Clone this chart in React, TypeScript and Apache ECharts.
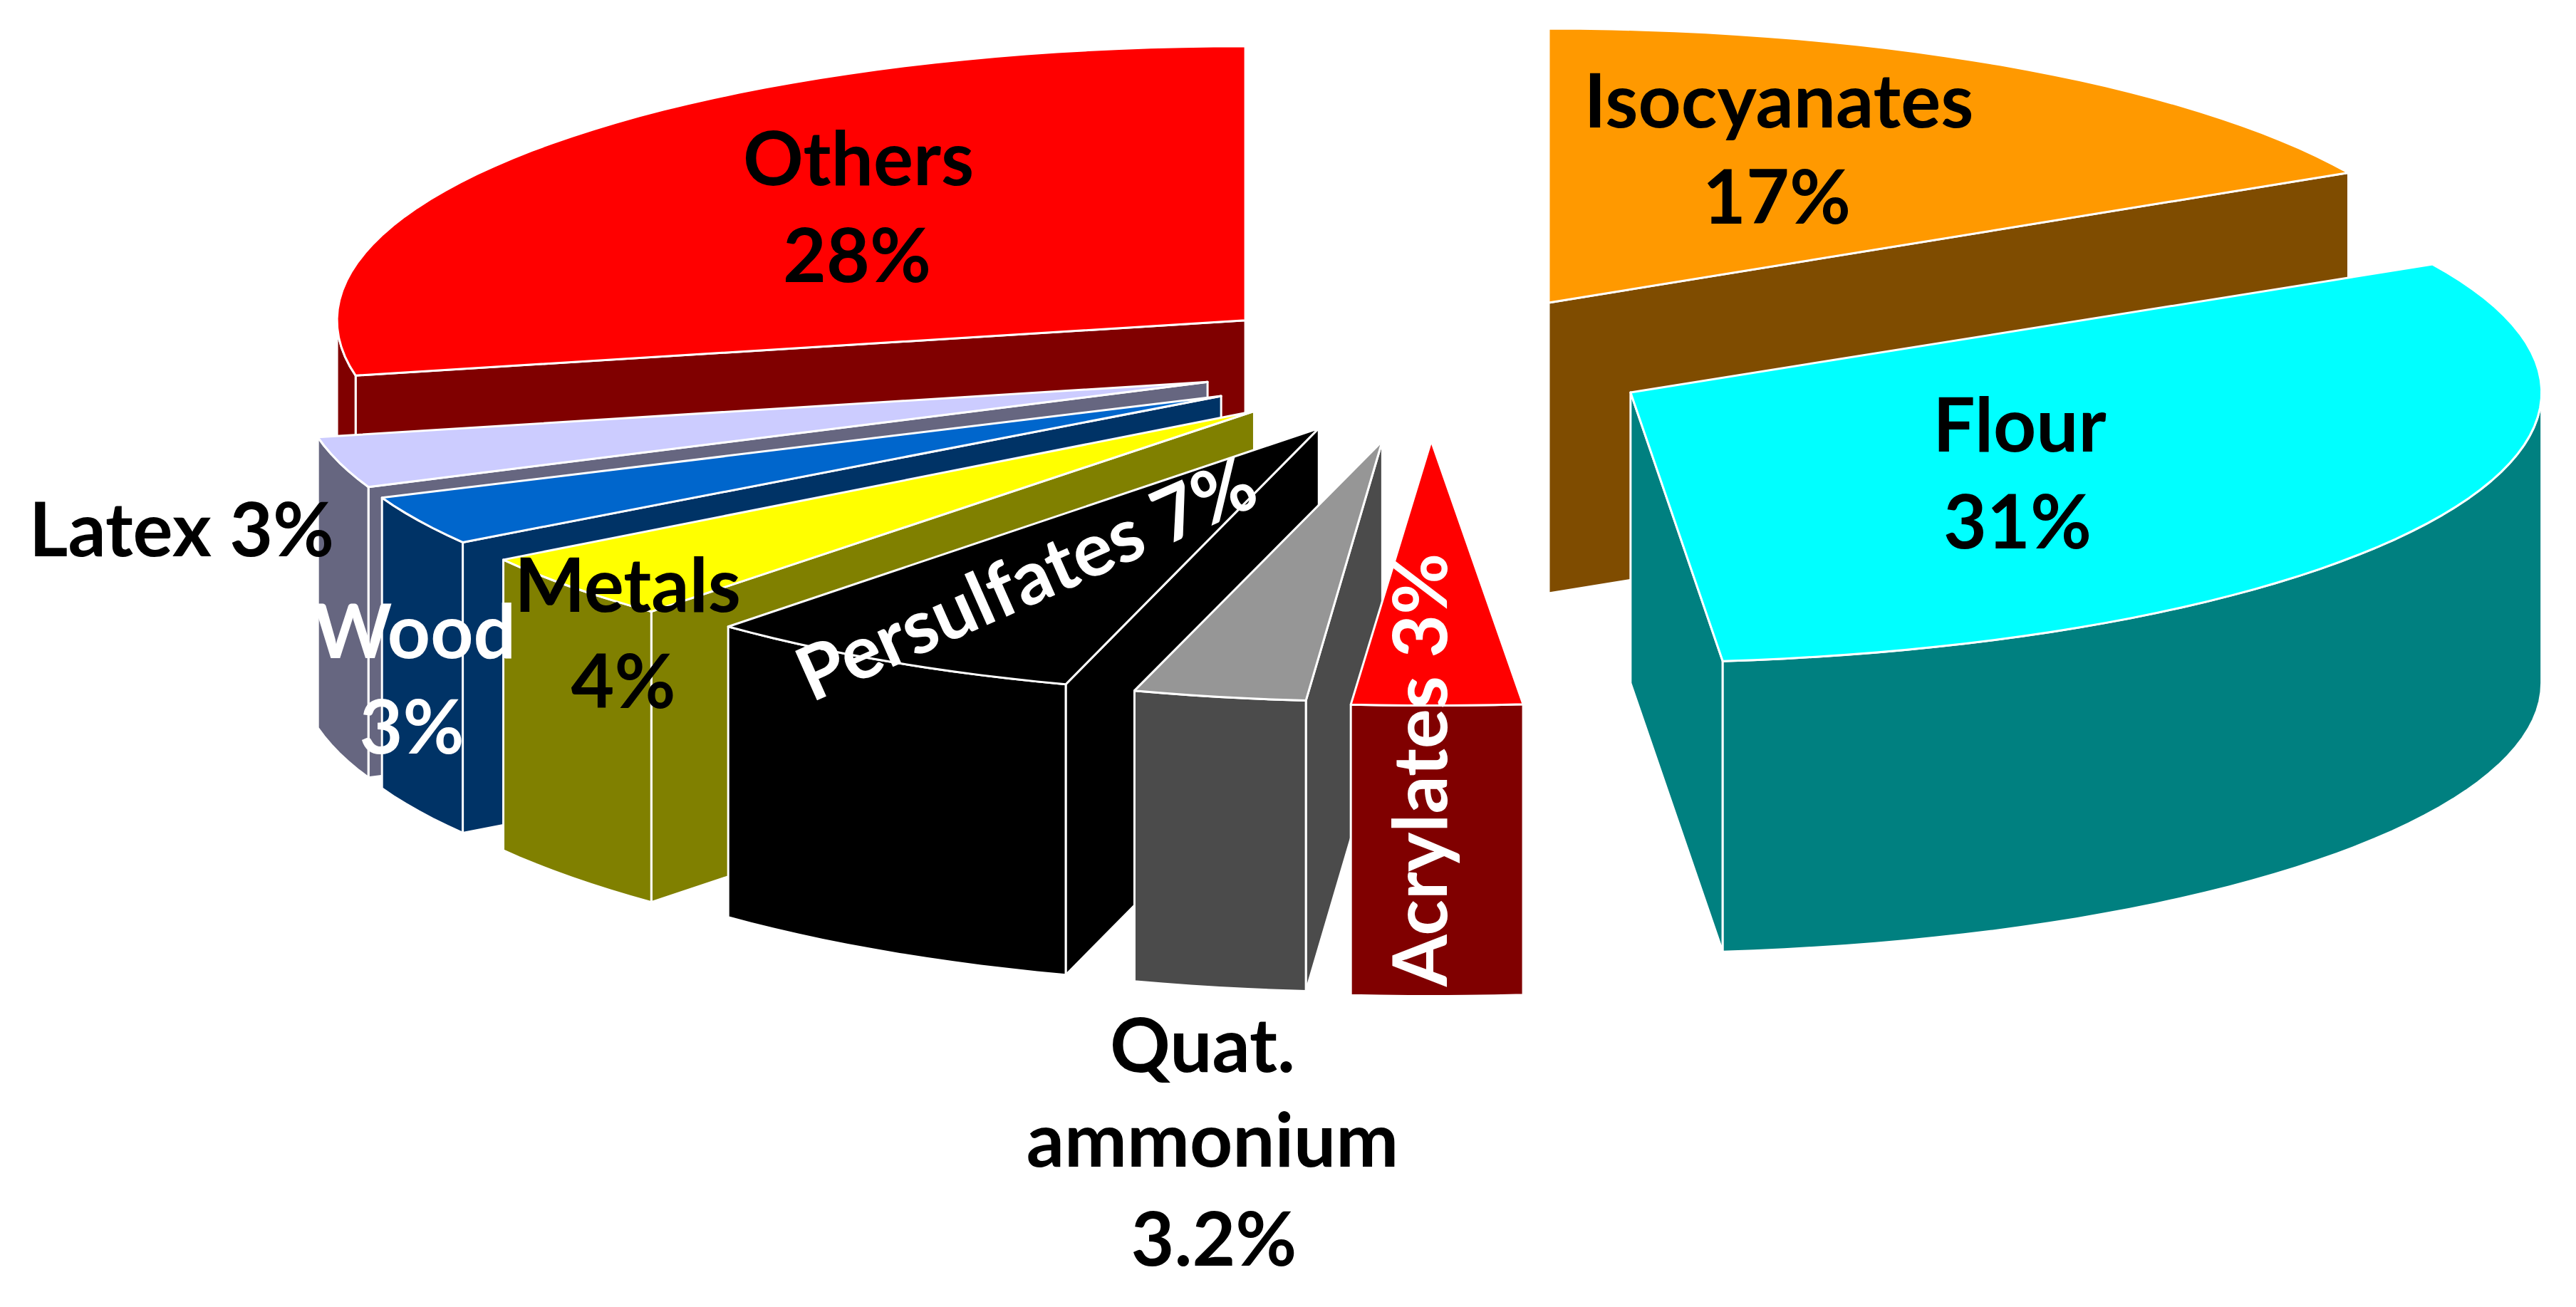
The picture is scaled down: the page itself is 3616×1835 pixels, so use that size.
import React, { useEffect, useRef } from "react";
import * as echarts from "echarts";

// ---- data, clockwise from the top of the pie
const categories = ["Isocyanates", "Flour", "Acrylates", "Quat. ammonium", "Persulfates", "Metals", "Wood", "Latex", "Others"];
const shares = [17, 31, 3, 3.2, 7, 4, 3, 3, 28];

// ---- styles
const topColors = ["#FF9900", "#00FFFF", "#FF0000", "#969696", "#000000", "#FFFF00", "#0066CC", "#CCCCFF", "#FF0000"];
const wallColors = ["#7F4C00", "#008080", "#800000", "#4B4B4B", "#000000", "#808000", "#003366", "#666680", "#800000"];

// ---- 3D pie layout
const W = 3616;
const H = 1835;
const centerX = 2000;
const centerY = 510;
const radiusX = 1275;
const radiusY = 385;
const depth = 408;
const explode = 0.26;
const nudgeX = [4, -4, 7, 3, 14, 12, 7, 12, 5];
const nudgeY = [1, -6, 9, 11, 4, 2, -1, -3, 3];
const scaleX = [1, 1.003, 1, 0.95, 0.97, 0.99, 1, 1, 1];
const scaleY = [1, 0.985, 0.965, 0.95, 0.975, 0.985, 0.97, 1, 1];
const drawOrder = [8, 0, 7, 6, 5, 4, 3, 2, 1];

const total = shares.reduce((a, b) => a + b, 0);
const startAngles: number[] = [];
let run = 0;
shares.forEach((v) => {
  startAngles.push((run / total) * 360);
  run += v;
});

const rim = (deg: number) => {
  const t = (deg * Math.PI) / 180;
  return [radiusX * Math.sin(t), -radiusY * Math.cos(t)];
};

function renderSlice(params: any, api: any) {
  const i = api.value(0) as number;
  const value = api.value(1) as number;
  const a0 = startAngles[i];
  const a1 = a0 + (value / total) * 360;
  const mid = rim((a0 + a1) / 2);
  const ax = centerX + explode * mid[0] + nudgeX[i];
  const ay = centerY + explode * mid[1] + nudgeY[i];
  const at = (deg: number) => {
    const p = rim(deg);
    return [ax + scaleX[i] * p[0], ay + scaleY[i] * p[1]];
  };
  const sample = (from: number, to: number) => {
    const n = Math.max(2, Math.ceil((to - from) / 2));
    const pts: number[][] = [];
    for (let k = 0; k <= n; k++) pts.push(at(from + ((to - from) * k) / n));
    return pts;
  };
  const down = (p: number[]) => [p[0], p[1] + depth];
  const apex = [ax, ay];
  const wallStyle = { fill: wallColors[i], stroke: "#FFFFFF", lineWidth: 3, lineJoin: "round" };
  const children: any[] = [];
  const wall = (pts: number[][]) =>
    children.push({ type: "polygon", shape: { points: [...pts, ...pts.slice().reverse().map(down)] }, style: wallStyle });

  // only faces that look towards the viewer are drawn
  const s = at(a0);
  const e = at(a1);
  if (s[0] < ax - 0.5) wall([apex, s]);
  if (ax < e[0] - 0.5) wall([e, apex]);
  const r0 = Math.max(a0, 90);
  const r1 = Math.min(a1, 270);
  if (r1 > r0) wall(sample(r0, r1));

  children.push({
    type: "polygon",
    shape: { points: [apex, ...sample(a0, a1)] },
    style: { fill: topColors[i], stroke: "#FFFFFF", lineWidth: 3, lineJoin: "round" },
  });
  return { type: "group", children };
}

// ---- labels
const labelTexts = ["Others", "28%", "Isocyanates", "17%", "Flour", "31%", "Latex 3%", "Wood", "3%", "Metals", "4%", "Persulfates 7%", "Acrylates 3%", "Quat.", "ammonium", "3.2%"];
const labelX = [1205, 1203, 2497, 2494, 2835, 2832, 255, 582, 578, 881, 875, 1439, 1990, 1688, 1702, 1704];
const labelY = [219, 355, 138, 273, 593, 729, 740, 883, 1017, 818, 953, 809, 1081, 1464, 1597, 1736];
const labelColors = ["#000", "#000", "#000", "#000", "#000", "#000", "#000", "#FFF", "#FFF", "#000", "#000", "#FFF", "#FFF", "#000", "#000", "#000"];
const labelRotation = [0, 0, 0, 0, 0, 0, 0, 0, 0, 0, 0, 23.9, 90, 0, 0, 0];

export default function App() {
  const ref = useRef<HTMLDivElement>(null);
  useEffect(() => {
    document.body.style.margin = "0";
    const chart = echarts.init(ref.current!, undefined, { renderer: "svg" });
    chart.setOption({
      animation: false,
      backgroundColor: "#FFFFFF",
      series: [
        {
          type: "custom",
          coordinateSystem: "none",
          silent: true,
          clip: false,
          encode: { value: [1] },
          renderItem: renderSlice,
          data: drawOrder.map((i) => ({ name: categories[i], value: [i, shares[i]] })),
        },
      ],
      graphic: {
        elements: labelTexts.map((text, i) => ({
          type: "text",
          z: 100,
          x: labelX[i],
          y: labelY[i],
          rotation: (labelRotation[i] * Math.PI) / 180,
          silent: true,
          style: {
            text,
            fill: labelColors[i],
            font: "bold 105px Lato",
            align: "center",
            verticalAlign: "middle",
          },
        })),
      },
    });
    return () => chart.dispose();
  }, []);
  return <div ref={ref} style={{ position: "fixed", left: 0, top: 0, width: W, height: H }} />;
}
